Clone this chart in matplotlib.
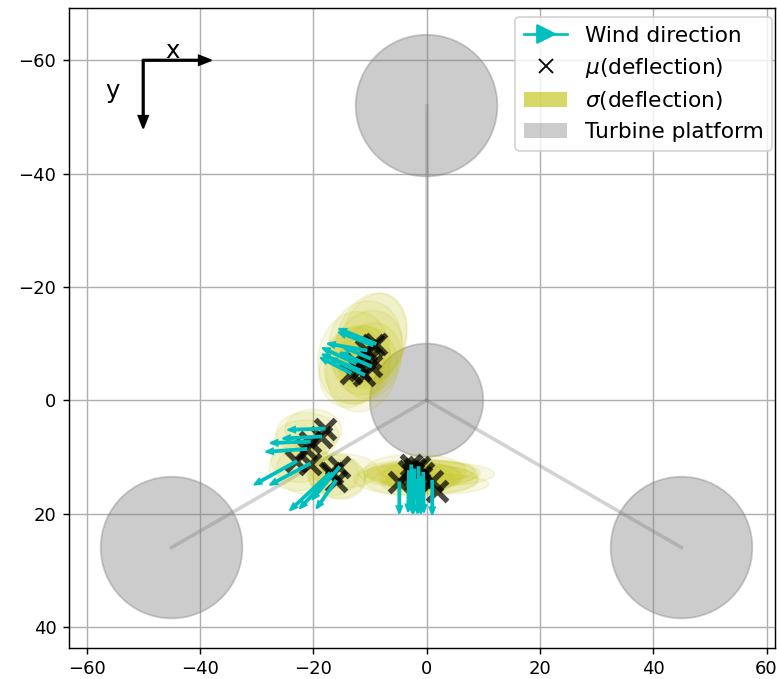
import numpy as np
import matplotlib
matplotlib.use("Agg")
import matplotlib.pyplot as plt
from matplotlib.patches import Circle, Ellipse, Patch
from matplotlib.lines import Line2D

# Platform geometry (column centres and radii)
col_x = [0, 0, -45, 45]
col_y = [0, -52, 26, 26]
col_r = [10, 12.5, 12.5, 12.5]

# Mean deflection per case
mu_x = [-9.0, -9.5, -10.6, -10.0, -11.8, -12.5, -13.4, -11.0, -9.8,
        -18.0, -18.6, -20.6, -21.2, -23.0, -20.6, -17.1, -16.6, -16.0, -15.4,
        -4.8, -3.1, -2.7, -2.4, -2.1, -1.8, -1.4, -0.9, -0.6, 1.0, 1.8]
mu_y = [-10.0, -9.7, -8.8, -7.4, -5.3, -6.5, -4.8, -4.5, -6.0,
        5.0, 6.4, 7.3, 8.6, 10.8, 11.2, 12.9, 12.9, 14.2, 11.8,
        14.5, 12.5, 11.5, 13.0, 12.2, 14.0, 11.8, 13.5, 12.8, 14.2, 16.0]
# Centre of the deflection spread (std ellipse)
sig_cx = [-9.2, -9.8, -10.8, -10.4, -12.2, -12.8, -13.2, -11.4, -10.0,
          -20.0, -21.0, -21.6, -22.4, -23.0, -21.0, -16.5, -15.8, -15.0, -14.5,
          -3.0, -1.5, -2.0, -1.0, -0.5, -1.8, 0.0, -1.0, 0.5, 1.0, 1.5]
sig_cy = [-11.0, -10.7, -9.8, -8.4, -6.3, -7.5, -5.8, -5.5, -7.0,
          5.2, 6.0, 7.0, 10.5, 12.0, 12.5, 13.0, 13.5, 14.0, 12.5,
          14.0, 13.0, 12.5, 13.5, 12.8, 14.0, 12.5, 13.5, 13.0, 14.0, 14.8]
# Std deviation of deflection
sig_x = [5.6, 6.0, 6.4, 6.0, 5.8, 6.3, 5.6, 6.2, 5.4,
         5.0, 5.5, 5.2, 5.0, 4.8, 5.5, 4.5, 5.0, 4.2, 6.0,
         8.0, 10.5, 9.0, 7.5, 10.0, 11.0, 8.5, 7.0, 11.5, 8.0, 9.5]
sig_y = [8.0, 8.4, 7.8, 7.6, 7.0, 8.2, 7.2, 7.6, 6.8,
         3.6, 3.8, 3.5, 4.0, 4.0, 4.2, 3.8, 3.8, 3.5, 3.0,
         2.8, 2.5, 3.0, 2.5, 2.2, 2.8, 2.0, 2.5, 2.2, 2.4, 1.8]
sig_ang = [15, 18, 12, 20, 15, 10, 18, 14, 16,
           0, 5, 0, -5, 0, 10, 0, 5, 0, 0,
           0, 0, 0, 0, 0, 0, 0, 0, 0, 0, 0]
# Wind direction (deg, x right / y down)
wind_dir = [202, 201, 190, 203, 203, 205, 207, 206, 204,
            178, 177, 178, 176, 151, 152, 137, 133, 125, 130,
            90, 91, 89, 90, 92, 88, 90, 91, 89, 90, 90]
arrow_len = [7.0, 6.5, 7.0, 5.2, 7.2, 6.5, 6.0, 6.8, 6.0,
             6.5, 6.8, 7.0, 7.2, 8.5, 8.0, 9.6, 8.5, 6.0, 7.5,
             5.5, 7.2, 8.3, 7.0, 7.8, 6.0, 8.0, 6.5, 7.0, 6.0, 0.0]

fig = plt.figure(figsize=(777/130, 679/130), dpi=130)
ax = fig.add_axes([69/777, 31/679, 706/777, 640/679])

ax.grid(True, color='#b0b0b0', lw=0.8)
ax.set_axisbelow(True)

for cx, cy, r in zip(col_x, col_y, col_r):
    ax.add_patch(Circle((cx, cy), r, facecolor='grey', edgecolor='grey', alpha=0.4, lw=1.0, zorder=2))
for cx, cy in zip(col_x[1:], col_y[1:]):
    ax.plot([col_x[0], cx], [col_y[0], cy], color='grey', alpha=0.35, lw=2, zorder=2)

for cx, cy, sx, sy, a in zip(sig_cx, sig_cy, sig_x, sig_y, sig_ang):
    ax.add_patch(Ellipse((cx, cy), 2*sx, 2*sy, angle=a,
                         facecolor='y', edgecolor='y', alpha=0.11, zorder=3))

ax.plot(mu_x, mu_y, 'x', color='k', ms=11, mew=3, alpha=0.7, zorder=4, ls='none')

for mx, my, d, L in zip(mu_x, mu_y, wind_dir, arrow_len):
    if L <= 0:
        continue
    dx = L*np.cos(np.radians(d))
    dy = L*np.sin(np.radians(d))
    ax.arrow(mx, my, dx, dy, width=0.35, head_width=1.0, head_length=1.3,
             length_includes_head=True, color='c', zorder=5)

# coordinate indicator
ax.arrow(-50, -60, 12, 0, width=0.25, head_width=1.7, head_length=2.2, length_includes_head=True, color='k', zorder=6)
ax.arrow(-50, -60, 0, 12, width=0.25, head_width=1.7, head_length=2.2, length_includes_head=True, color='k', zorder=6)
ax.text(-44.8, -61.6, 'x', ha='center', va='center', fontsize=13.5)
ax.text(-55.5, -54.5, 'y', ha='center', va='center', fontsize=13.5)

ax.set_xlim(-63.1, 61.5)
ax.set_ylim(43.7, -69.2)
ax.set_aspect('equal')
ax.set_xticks([-60, -40, -20, 0, 20, 40, 60])
ax.set_yticks([-60, -40, -20, 0, 20, 40])

handles = [Line2D([0], [0], color='c', marker='>', markersize=10),
           Line2D([0], [0], color='k', marker='x', ls='none', markersize=8),
           Patch(facecolor='y', alpha=0.6),
           Patch(facecolor='grey', alpha=0.4)]
labels = ['Wind direction', r'$\mu$(deflection)', r'$\sigma$(deflection)', 'Turbine platform']
ax.legend(handles, labels, loc='upper right', fontsize=12, borderaxespad=0,
          bbox_to_anchor=(0.9958, 0.986), labelspacing=0.45)

fig.savefig('out.png', dpi=130)
